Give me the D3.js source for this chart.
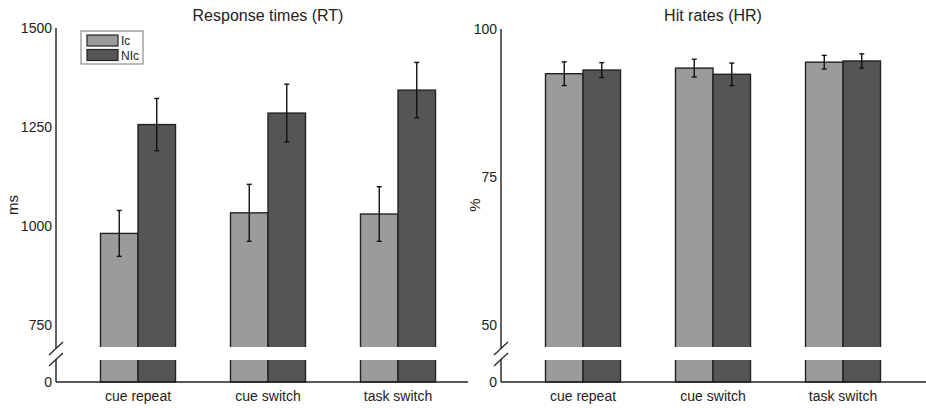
<!DOCTYPE html>
<html>
<head>
<meta charset="utf-8">
<script src="https://cdn.jsdelivr.net/npm/d3@7"></script>
<style>
  body { margin: 0; background: #fff; }
  svg { display: block; font-family: "Liberation Sans", Arial, Helvetica, sans-serif; }
</style>
</head>
<body>
<svg id="chart" width="926" height="408"></svg>
<script>
// values
const categories = ["cue repeat", "cue switch", "task switch"];
const conditions = ["Ic", "NIc"];

const rtIc = [981, 1033, 1030];
const rtNIc = [1256, 1285, 1343];
const rtIcErr = [58, 72, 69];
const rtNIcErr = [66, 73, 70];

const hrIc = [92.45, 93.4, 94.4];
const hrNIc = [93.07, 92.35, 94.6];
const hrIcErr = [2.0, 1.5, 1.15];
const hrNIcErr = [1.25, 1.9, 1.2];

const rtTicks = [750, 1000, 1250, 1500];
const hrTicks = [50, 75, 100];

const colors = { Ic: "#9a9b9b", NIc: "#555555" };

const svg = d3.select("#chart");

// y positions of the broken axis
const breakTop = 347, breakBot = 360, baseY = 382;

function panel(opt) {
  const g = svg.append("g");

  const x = d3.scaleBand().domain(categories).range(opt.xRange)
    .paddingInner(0.423).paddingOuter(0.2115);
  const xi = d3.scaleBand().domain(conditions).range([0, x.bandwidth()]);
  const y = d3.scaleLinear().domain([opt.lo, opt.top]).range([breakTop, opt.yTop]);
  const y0 = d3.scaleLinear().domain([0, 1]).range([baseY, baseY - 1]);

  const rows = [];
  categories.forEach((c, i) => {
    rows.push({cat: c, cond: "Ic", v: opt.ic[i], e: opt.icErr[i]});
    rows.push({cat: c, cond: "NIc", v: opt.nic[i], e: opt.nicErr[i]});
  });

  // bars
  g.selectAll("rect.bar").data(rows).enter().append("rect")
    .attr("class", "bar")
    .attr("x", d => x(d.cat) + xi(d.cond))
    .attr("y", d => y(d.v))
    .attr("width", xi.bandwidth())
    .attr("height", d => y0(0) - y(d.v))
    .attr("fill", d => colors[d.cond])
    .attr("stroke", "#222")
    .attr("stroke-width", 1.4);

  // white gap for the break
  g.append("rect")
    .attr("x", opt.axisX + 2)
    .attr("y", breakTop)
    .attr("width", opt.baseEnd - opt.axisX)
    .attr("height", breakBot - breakTop)
    .attr("fill", "#fff");

  // error bars
  const eb = g.selectAll("g.err").data(rows).enter().append("g")
    .attr("class", "err")
    .attr("stroke", "#111").attr("stroke-width", 1.4);
  const cx = d => x(d.cat) + xi(d.cond) + xi.bandwidth() / 2;
  eb.append("line").attr("x1", cx).attr("x2", cx)
    .attr("y1", d => y(d.v + d.e)).attr("y2", d => y(d.v - d.e));
  eb.append("line").attr("x1", d => cx(d) - 2.5).attr("x2", d => cx(d) + 2.5)
    .attr("y1", d => y(d.v + d.e)).attr("y2", d => y(d.v + d.e));
  eb.append("line").attr("x1", d => cx(d) - 2.5).attr("x2", d => cx(d) + 2.5)
    .attr("y1", d => y(d.v - d.e)).attr("y2", d => y(d.v - d.e));

  // axes lines with break marks
  const ax = opt.axisX;
  const lc = "#222";
  g.append("line").attr("x1", ax).attr("x2", ax).attr("y1", y(opt.top)).attr("y2", breakTop + 1)
    .attr("stroke", lc).attr("stroke-width", 1.4);
  g.append("line").attr("x1", ax).attr("x2", ax).attr("y1", breakBot - 1).attr("y2", baseY)
    .attr("stroke", lc).attr("stroke-width", 1.4);
  [breakTop + 1, breakBot - 1].forEach(yy => {
    g.append("line").attr("x1", ax - 7).attr("y1", yy + 7).attr("x2", ax + 7).attr("y2", yy - 6)
      .attr("stroke", lc).attr("stroke-width", 1.2);
  });
  g.append("line").attr("x1", ax).attr("x2", opt.baseEnd).attr("y1", baseY).attr("y2", baseY)
    .attr("stroke", lc).attr("stroke-width", 1.4);

  // tick labels
  const yAxis = g.append("g").attr("transform", `translate(${ax},0)`)
    .call(d3.axisLeft(y).tickValues(opt.ticks).tickFormat(d3.format("d")).tickSize(0).tickPadding(4));
  const yAxis0 = g.append("g").attr("transform", `translate(${ax},0)`)
    .call(d3.axisLeft(y0).tickValues([0]).tickFormat(d3.format("d")).tickSize(0).tickPadding(4));
  [yAxis, yAxis0].forEach(a => {
    a.select(".domain").remove();
    a.selectAll("text").attr("font-size", 14).attr("fill", "#222")
      .style("font-family", "Liberation Sans, Arial, sans-serif");
  });

  const xAxis = g.append("g").attr("transform", `translate(0,${baseY})`)
    .call(d3.axisBottom(x).tickSize(0).tickPadding(9));
  xAxis.select(".domain").remove();
  xAxis.selectAll("text").attr("font-size", 14).attr("fill", "#222")
    .style("font-family", "Liberation Sans, Arial, sans-serif");

  // title and y label
  g.append("text").attr("x", x(categories[1]) + x.bandwidth() / 2).attr("y", 21)
    .attr("text-anchor", "middle").attr("font-size", 16).attr("fill", "#222")
    .text(opt.title);
  g.append("text").attr("transform", `translate(${opt.labelX},205) rotate(-90)`)
    .attr("text-anchor", "middle").attr("font-size", 15).attr("fill", "#222")
    .text(opt.ylabel);

  return g;
}

panel({
  xRange: [73, 463], axisX: 56, baseEnd: 468, lo: 694, top: 1500, yTop: 28,
  ic: rtIc, nic: rtNIc, icErr: rtIcErr, nicErr: rtNIcErr, ticks: rtTicks,
  title: "Response times (RT)", ylabel: "ms", labelX: 18
});

panel({
  xRange: [518, 908], axisX: 501, baseEnd: 926, lo: 46.3, top: 100, yTop: 29,
  ic: hrIc, nic: hrNIc, icErr: hrIcErr, nicErr: hrNIcErr, ticks: hrTicks,
  title: "Hit rates (HR)", ylabel: "%", labelX: 480
});

// legend
const leg = svg.append("g").attr("transform", "translate(81,31)");
leg.append("rect").attr("width", 62).attr("height", 33)
  .attr("fill", "#fff").attr("stroke", "#777").attr("stroke-width", 1);
conditions.forEach((c, i) => {
  leg.append("rect").attr("x", 6).attr("y", 4 + i * 14.5).attr("width", 31).attr("height", 11)
    .attr("fill", colors[c]).attr("stroke", "#222").attr("stroke-width", 1.2);
  leg.append("text").attr("x", 40).attr("y", 14 + i * 14.5)
    .attr("font-size", 12).attr("fill", "#222").text(c);
});
</script>
</body>
</html>
